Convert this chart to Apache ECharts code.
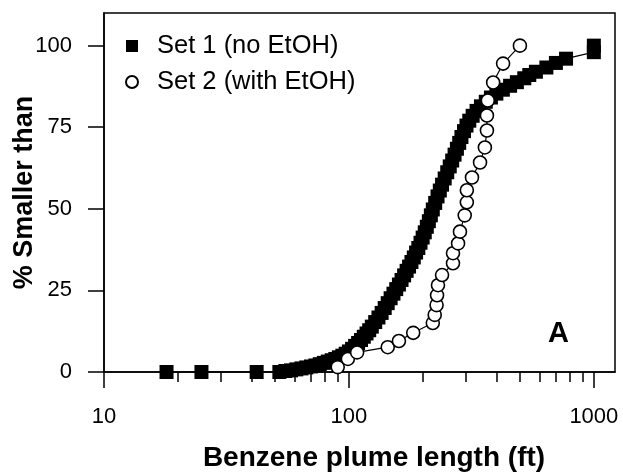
<!DOCTYPE html>
<html>
<head>
<meta charset="utf-8">
<script src="https://cdn.jsdelivr.net/npm/echarts@6/dist/echarts.min.js"></script>
<style>
  html, body { margin: 0; padding: 0; background: #fff; }
  #main { width: 623px; height: 475px; }
</style>
</head>
<body>
<div id="main"></div>
<script>
// Set 1 (no EtOH) - plume length (ft) vs cumulative %
var set1X = [18, 25, 42, 52, 55, 58, 61, 64, 67, 70, 73, 76, 79, 82, 85, 88, 91, 94, 97, 100,
  103, 106, 109, 112, 115, 118, 121, 124, 128, 132, 136, 140, 144, 148, 152, 156, 160, 164, 168, 172,
  176, 180, 184, 188, 192, 196, 200, 204, 208, 212, 216, 220, 225, 230, 235, 240, 246, 252, 258, 264,
  270, 276, 282, 288, 295, 302, 310, 320, 332, 346, 362, 380, 400, 425, 455, 485, 520, 545, 580, 640,
  700, 770, 1000, 1000];
var set1Y = [0, 0, 0, 0, 0.3, 0.5, 0.8, 1.1, 1.4, 1.7, 2.0, 2.4, 2.8, 3.2, 3.6, 4.0, 4.5, 5.0, 5.6, 6.3,
  7.1, 8.0, 8.9, 9.8, 10.8, 11.8, 12.8, 13.9, 15.3, 16.7, 18.1, 19.6, 21.1, 22.6, 24.0, 25.4, 26.8, 28.2, 29.6, 31.0,
  32.3, 33.7, 35.1, 36.6, 38.0, 39.6, 41.2, 42.8, 44.5, 46.2, 48.0, 49.8, 51.8, 53.8, 55.6, 57.4, 59.3, 61.2, 63.0, 64.8,
  66.6, 68.4, 70.2, 72.0, 73.8, 75.5, 77.0, 78.5, 80.0, 81.4, 82.8, 84.1, 85.3, 86.5, 87.7, 88.8, 90.0, 91.0, 92.0, 93.3,
  94.7, 96.0, 98.0, 100];

// Set 2 (with EtOH)
var set2X = [90, 99, 108, 144, 160, 183, 220, 224, 228, 229, 231, 240, 266, 266, 279, 284, 297, 303, 303, 318,
  343, 359, 366, 366, 369, 388, 426, 499];
var set2Y = [1.5, 4, 6, 7.6, 9.5, 12, 15, 17.5, 20.5, 23.5, 26.6, 29.7, 33.3, 36.4, 39.4, 43, 48, 52, 55.7, 59.6,
  64.2, 68.8, 74, 78.6, 83.2, 88.7, 94.5, 100];

var xMajorTicks = [10, 100, 1000];
var xMinorTicks = [20, 30, 40, 50, 60, 70, 80, 90, 200, 300, 400, 500, 600, 700, 800, 900];
var yTicks = [0, 25, 50, 75, 100];

var FONT = "'Liberation Sans', Arial, sans-serif";

function pairs(xs, ys) {
  return xs.map(function (x, i) { return [x, ys[i]]; });
}

var chart = echarts.init(document.getElementById('main'));
var option = {
  animation: false,
  backgroundColor: '#fff',
  title: {
    text: 'A',
    left: 543,
    top: 314,
    textStyle: { fontFamily: FONT, fontSize: 29, fontWeight: 'bold', color: '#000' }
  },
  grid: {
    left: 104, right: 8, top: 13, bottom: 103,
    outerBoundsMode: 'none',
    containLabel: false,
    show: true,
    borderColor: '#000',
    borderWidth: 1.5
  },
  legend: {
    left: 120,
    top: 28,
    orient: 'vertical',
    itemWidth: 12,
    itemHeight: 12,
    itemGap: 10,
    textStyle: { fontFamily: FONT, fontSize: 25.5, color: '#000', padding: [0, 0, 0, 14] },
    data: [
      { name: 'Set 1 (no EtOH)', icon: 'rect' },
      { name: 'Set 2 (with EtOH)', icon: 'circle' }
    ]
  },
  xAxis: [
    {
      type: 'log',
      logBase: 10,
      min: 10,
      max: 1220,
      name: 'Benzene plume length (ft)',
      nameLocation: 'middle',
      nameGap: 72,
      nameMoveOverlap: false,
      nameTextStyle: { fontFamily: FONT, fontSize: 28, fontWeight: 'bold', color: '#000', padding: [0, 0, 0, 29] },
      axisLine: { lineStyle: { color: '#000', width: 1.5 } },
      axisTick: { inside: false, length: 16, customValues: xMajorTicks, lineStyle: { color: '#000', width: 1.5 } },
      axisLabel: {
        customValues: xMajorTicks, margin: 34, fontFamily: FONT, fontSize: 22, color: '#000',
        formatter: function (v) { return String(v); }
      },
      splitLine: { show: false },
      minorTick: { show: false }
    },
    {
      type: 'log',
      logBase: 10,
      min: 10,
      max: 1220,
      position: 'bottom',
      axisLine: { show: false },
      axisTick: { inside: false, length: 10, customValues: xMinorTicks, lineStyle: { color: '#000', width: 1.5 } },
      axisLabel: { show: false },
      splitLine: { show: false }
    }
  ],
  yAxis: {
    type: 'value',
    min: 0,
    max: 110,
    name: '% Smaller than',
    nameLocation: 'middle',
    nameGap: 66,
    nameMoveOverlap: false,
    nameTextStyle: { fontFamily: FONT, fontSize: 27, fontWeight: 'bold', color: '#000' },
    axisLine: { lineStyle: { color: '#000', width: 1.5 } },
    axisTick: { inside: false, length: 16, customValues: yTicks, lineStyle: { color: '#000', width: 1.5 } },
    axisLabel: { customValues: yTicks, margin: 32, fontFamily: FONT, fontSize: 22, color: '#000' },
    splitLine: { show: false }
  },
  series: [
    {
      name: 'Set 1 (no EtOH)',
      type: 'line',
      xAxisIndex: 0,
      data: pairs(set1X, set1Y),
      symbol: 'rect',
      symbolSize: 14,
      lineStyle: { color: '#000', width: 1.2 },
      itemStyle: { color: '#000' },
      z: 2
    },
    {
      name: 'Set 2 (with EtOH)',
      type: 'line',
      xAxisIndex: 0,
      data: pairs(set2X, set2Y),
      symbol: 'circle',
      symbolSize: 13,
      lineStyle: { color: '#000', width: 1.2 },
      itemStyle: { color: '#fff', borderColor: '#000', borderWidth: 1.6 },
      z: 3
    }
  ]
};
chart.setOption(option);
</script>
</body>
</html>
